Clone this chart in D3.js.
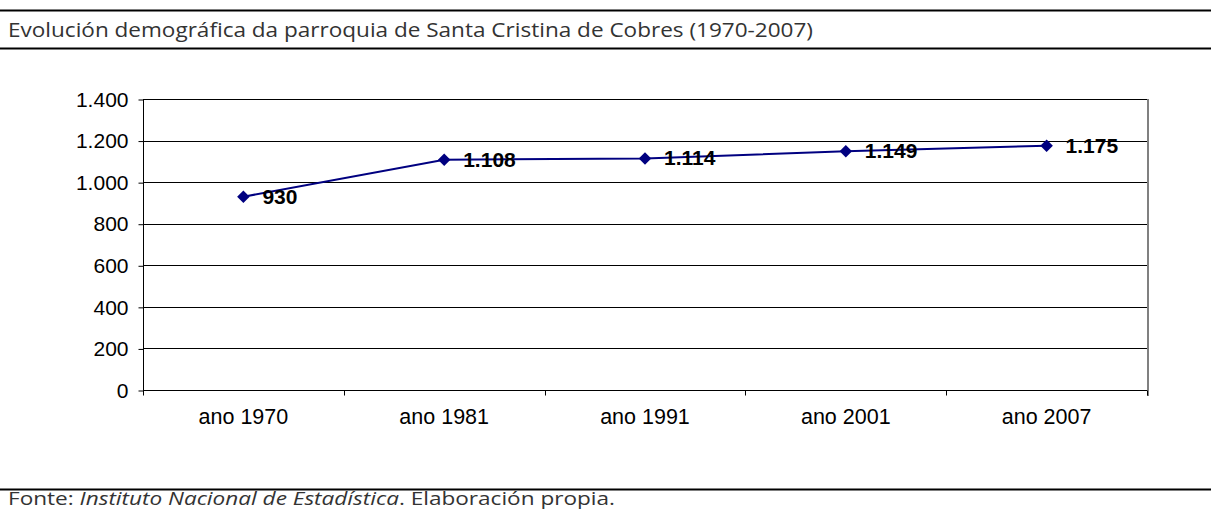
<!DOCTYPE html>
<html lang="gl">
<head>
	<meta charset="UTF-8"/>
	<title>Evolución demográfica</title>
	<script src="https://d3js.org/d3.v7.min.js"></script>
	<style>
		body { margin:0; background:#fff; }
		svg { display:block; }
	</style>
</head>
<body>
<script>
	var w = 1211;
	var h = 511;

	// data
	var categories = ["ano 1970","ano 1981","ano 1991","ano 2001","ano 2007"];
	var population = [930,1108,1114,1149,1175];
	var yTicks = [0,200,400,600,800,1000,1200,1400];

	var margin = {left:143, right:64, top:99, bottom:121};

	var fmt = function(d){ return d3.format(",")(d).replace(/,/g,"."); };

	var xScale = d3.scaleBand()
				.domain(categories)
				.range([margin.left, w - margin.right]);

	var yScale = d3.scaleLinear()
				.domain([0,1400])
				.range([h - margin.bottom, margin.top]);

	var svg = d3.select("body")
				.append("svg")
				.attr("width",w)
				.attr("height",h);

	//------------frame lines and title-------------
	svg.append("line").attr("x1",0).attr("x2",w).attr("y1",10.5).attr("y2",10.5)
		.attr("stroke","#000").attr("stroke-width",2);
	svg.append("line").attr("x1",0).attr("x2",w).attr("y1",48.5).attr("y2",48.5)
		.attr("stroke","#000").attr("stroke-width",2);
	svg.append("line").attr("x1",0).attr("x2",w).attr("y1",489.5).attr("y2",489.5)
		.attr("stroke","#000").attr("stroke-width",2);

	svg.append("text")
		.attr("x",8).attr("y",37)
		.attr("font-family","'Open Sans', Lato, sans-serif")
		.attr("font-size",20)
		.attr("fill","#333")
		.attr("textLength",805)
		.attr("lengthAdjust","spacingAndGlyphs")
		.text("Evolución demográfica da parroquia de Santa Cristina de Cobres (1970-2007)");

	var foot = svg.append("text")
		.attr("x",8).attr("y",505)
		.attr("font-family","'Open Sans', Lato, sans-serif")
		.attr("font-size",18)
		.attr("fill","#333")
		.attr("textLength",607)
		.attr("lengthAdjust","spacingAndGlyphs");
	foot.append("tspan").text("Fonte: ");
	foot.append("tspan").attr("font-style","italic").text("Instituto Nacional de Estadística");
	foot.append("tspan").text(". Elaboración propia.");

	//------------grid-------------
	svg.selectAll("line.grid")
		.data(yTicks.filter(function(d){ return d > 0; }))
		.enter()
		.append("line")
		.attr("class","grid")
		.attr("x1",margin.left).attr("x2",w - margin.right)
		.attr("y1",function(d){ return Math.round(yScale(d)) + 0.5; })
		.attr("y2",function(d){ return Math.round(yScale(d)) + 0.5; })
		.attr("stroke","#000")
		.attr("stroke-width",1);

	// right border of plot area
	svg.append("line")
		.attr("x1",w - margin.right + 1).attr("x2",w - margin.right + 1)
		.attr("y1",margin.top).attr("y2",h - margin.bottom + 6)
		.attr("stroke","#808080").attr("stroke-width",2);

	//------------axes-------------
	var yAxis = d3.axisLeft(yScale)
				.tickValues(yTicks)
				.tickSize(5)
				.tickFormat(fmt);

	var gy = svg.append("g")
		.attr("transform","translate(" + (margin.left + 0.5) + ",0.5)")
		.call(yAxis);
	gy.select(".domain").attr("d","M0," + margin.top + "V" + (h - margin.bottom));
	gy.selectAll("text")
		.attr("font-family","'Liberation Sans', Arial, sans-serif")
		.attr("font-size",21)
		.attr("fill","#000")
		.attr("dx",-7);

	var gx = svg.append("g")
		.attr("transform","translate(0," + (h - margin.bottom + 0.5) + ")");
	gx.append("line")
		.attr("x1",margin.left).attr("x2",w - margin.right)
		.attr("stroke","#000");
	var bounds = categories.map(function(c){ return xScale(c); }).concat([w - margin.right]);
	gx.selectAll("line.tk")
		.data(bounds)
		.enter()
		.append("line")
		.attr("class","tk")
		.attr("x1",function(d){ return Math.round(d) + 0.5; })
		.attr("x2",function(d){ return Math.round(d) + 0.5; })
		.attr("y1",0).attr("y2",5)
		.attr("stroke","#000");
	gx.selectAll("text")
		.data(categories)
		.enter()
		.append("text")
		.attr("x",function(d){ return xScale(d) + xScale.bandwidth()/2; })
		.attr("y",33)
		.attr("text-anchor","middle")
		.attr("font-family","'Liberation Sans', Arial, sans-serif")
		.attr("font-size",21.5)
		.attr("fill","#000")
		.text(function(d){ return d; });

	//------------line and markers-------------
	var pts = categories.map(function(c,i){
		return { x: xScale(c) + xScale.bandwidth()/2, y: yScale(population[i]), v: population[i] };
	});

	var line = d3.line()
				.x(function(d){ return d.x; })
				.y(function(d){ return d.y; });

	svg.append("path")
		.datum(pts)
		.attr("d",line)
		.attr("fill","none")
		.attr("stroke","#000080")
		.attr("stroke-width",2);

	svg.selectAll("path.mk")
		.data(pts)
		.enter()
		.append("path")
		.attr("class","mk")
		.attr("d",d3.symbol().type(d3.symbolDiamond2).size(100))
		.attr("transform",function(d){ return "translate(" + d.x + "," + d.y + ")"; })
		.attr("fill","#000080");

	//-------labels on the points---------
	svg.selectAll("text.lbl")
		.data(pts)
		.enter()
		.append("text")
		.attr("class","lbl")
		.attr("x",function(d){ return d.x + 19; })
		.attr("y",function(d){ return d.y + 7; })
		.attr("font-family","'Liberation Sans', Arial, sans-serif")
		.attr("font-weight","bold")
		.attr("font-size",21)
		.attr("fill","#000")
		.text(function(d){ return fmt(d.v); });
</script>
</body>
</html>
